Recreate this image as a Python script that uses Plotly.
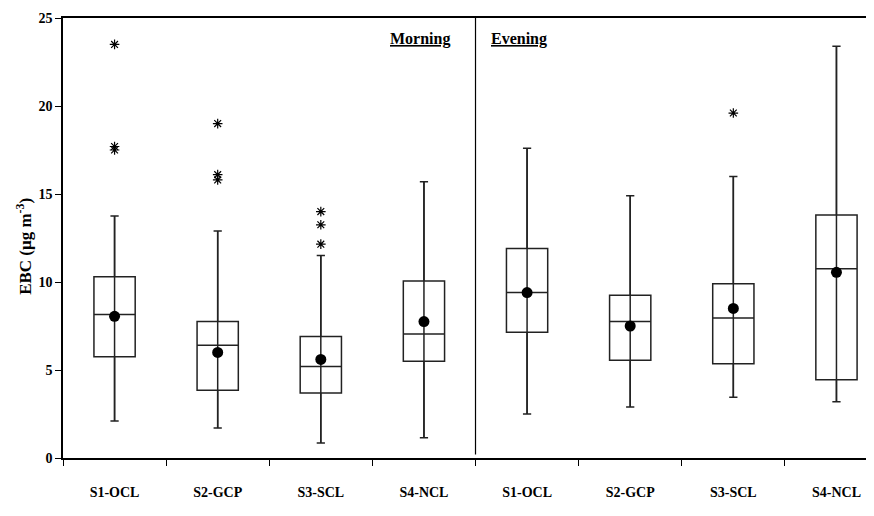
import plotly.graph_objects as go

categories = ["S1-OCL", "S2-GCP", "S3-SCL", "S4-NCL", "S1-OCL", "S2-GCP", "S3-SCL", "S4-NCL"]
period = ["Morning"] * 4 + ["Evening"] * 4
lower_whisker = [2.1, 1.7, 0.85, 1.15, 2.5, 2.9, 3.45, 3.2]
q1 = [5.75, 3.85, 3.7, 5.5, 7.15, 5.55, 5.35, 4.45]
median = [8.15, 6.4, 5.2, 7.05, 9.4, 7.75, 7.95, 10.75]
q3 = [10.3, 7.75, 6.9, 10.05, 11.9, 9.25, 9.9, 13.8]
upper_whisker = [13.75, 12.9, 11.5, 15.7, 17.6, 14.9, 16.0, 23.4]
mean = [8.05, 6.0, 5.6, 7.75, 9.4, 7.5, 8.5, 10.55]
outlier_idx = [0, 0, 0, 1, 1, 1, 2, 2, 2, 6]
outlier_val = [23.5, 17.7, 17.5, 19.0, 16.1, 15.8, 14.0, 13.25, 12.15, 19.6]

FONT = "Liberation Serif"
pos = list(range(len(categories)))

# whisker line running through each box
wx, wy = [], []
for i, lo, hi in zip(pos, lower_whisker, upper_whisker):
    wx += [i, i, None]
    wy += [lo, hi, None]

fig = go.Figure()
fig.add_trace(go.Scatter(
    x=wx, y=wy, mode="lines", line=dict(color="#222222", width=1.5),
    showlegend=False, hoverinfo="skip",
))
fig.add_trace(go.Box(
    x=pos, q1=q1, median=median, q3=q3,
    lowerfence=lower_whisker, upperfence=upper_whisker,
    width=0.4, whiskerwidth=0.2,
    fillcolor="rgba(0,0,0,0)",
    line=dict(color="#222222", width=1.5),
    boxpoints=False, showlegend=False, hoverinfo="skip",
))
fig.add_trace(go.Scatter(
    x=pos, y=mean, mode="markers",
    marker=dict(color="black", size=11, symbol="circle"),
    showlegend=False,
))
fig.add_trace(go.Scatter(
    x=outlier_idx, y=outlier_val, mode="markers",
    marker=dict(symbol="asterisk-open", size=8, color="black",
                line=dict(color="black", width=1.2)),
    showlegend=False,
))

fig.add_shape(type="line", x0=3.5, x1=3.5, y0=0.2, y1=25,
              line=dict(color="black", width=1.2), layer="above")

fig.add_annotation(x=3.27, y=23.8, text="<b><u>Morning</u></b>", showarrow=False,
                   xanchor="right", yanchor="middle",
                   font=dict(family=FONT, size=16, color="black"))
fig.add_annotation(x=3.63, y=23.8, text="<b><u>Evening</u></b>", showarrow=False,
                   xanchor="left", yanchor="middle",
                   font=dict(family=FONT, size=16, color="black"))
fig.add_annotation(xref="paper", yref="paper", x=-0.048, y=0.48,
                   text="<b>EBC (μg m<sup>-3</sup>)</b>", textangle=-90,
                   showarrow=False, xanchor="center", yanchor="middle",
                   font=dict(family=FONT, size=17, color="black"))

fig.update_layout(
    width=866, height=508,
    margin=dict(l=55, r=0, t=10, b=58),
    plot_bgcolor="white", paper_bgcolor="white",
    font=dict(family=FONT, color="black"),
    xaxis=dict(
        range=[-0.5, 7.364], tickvals=pos, ticktext=[f"<b>{c}</b>" for c in categories],
        ticks="", showgrid=False, zeroline=False, automargin=False,
        showline=True, linecolor="black", linewidth=1.5, mirror=True,
        ticklabelstandoff=20,
        tickfont=dict(family=FONT, size=14, color="black"),
        minor=dict(tickvals=[i - 0.5 for i in range(9)], ticks="outside",
                   ticklen=6, tickcolor="black", tickwidth=1, showgrid=False),
    ),
    yaxis=dict(
        range=[0, 25], tickvals=[0, 5, 10, 15, 20, 25],
        ticktext=[f"<b>{v}</b>" for v in [0, 5, 10, 15, 20, 25]],
        ticks="outside", ticklen=6, tickcolor="black", tickwidth=1,
        showgrid=False, zeroline=False, automargin=False,
        showline=True, linecolor="black", linewidth=1.5,
        tickfont=dict(family=FONT, size=14, color="black"),
    ),
)

fig.write_html("out.html")
